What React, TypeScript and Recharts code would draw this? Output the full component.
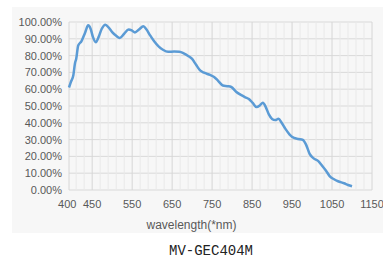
import { LineChart, Line, XAxis, YAxis, CartesianGrid, ReferenceLine, Label } from 'recharts';

// wavelength (nm) and relative response (%)
const wavelengths = [
  392, 397, 403, 407, 410, 415, 423, 432, 440, 446, 452, 459, 466, 474, 483, 492, 500, 510, 519, 530,
  541, 549, 557, 567, 578, 586, 595, 605, 616, 627, 640, 655, 668, 680, 690, 700, 710, 720, 730, 745,
  755, 765, 777, 788, 798, 810, 822, 833, 842, 851, 861, 870, 877, 884, 892, 900, 908, 916, 924, 933,
  944, 955, 966, 977, 985, 994, 1004, 1015, 1025, 1035, 1044, 1055, 1065, 1080, 1090, 1100,
];
const response = [
  61, 64.5, 68.5, 75.5, 78, 86, 88.5, 93.5, 98, 96, 91, 88, 91, 96, 98.4, 96.5, 94, 91.8, 90.5, 93,
  95.5, 95, 93.8, 95.5, 97.4, 95.5, 92, 88.5, 85.5, 83.5, 82.3, 82.4, 82.3, 81.2, 79.8, 78, 74.5, 71.2, 69.8, 68.5,
  67.3, 65, 62.2, 61.8, 61.3, 58.5, 56.6, 55.2, 54.2, 52, 49.4, 50.5, 52, 49.5, 45, 42.3, 41.6, 42.4, 40, 36.5,
  33, 31, 30.4, 29.8, 27, 21.5, 18.8, 17.3, 14.5, 11.5, 8.3, 6.4, 5.2, 4, 3, 2.2,
];

const xTicks = [400, 450, 550, 650, 750, 850, 950, 1050, 1150];
const yTicks = [0, 10, 20, 30, 40, 50, 60, 70, 80, 90, 100];
const majorLines = [450, 550, 650, 750, 850, 950, 1050, 1150];
const minorLines = [410, 430, 470, 490, 510, 530, 570, 590, 610, 630, 670, 690, 710, 730, 770, 790, 810, 830,
  870, 890, 910, 930, 970, 990, 1010, 1030, 1070, 1090, 1110, 1130];

const data = wavelengths.map((w, i) => ({ w, v: response[i] }));

const font = { fontFamily: 'Liberation Sans', fontSize: 11, fill: '#595959' };

// the first label sits a bit left of its tick, as in the source
const XTick = (props) => {
  const { x, y, payload } = props;
  return (
    <text x={payload.value === 400 ? x - 5 : x} y={y} dy="0.71em" textAnchor="middle" {...font}>
      {payload.value}
    </text>
  );
};

export default function App() {
  return (
    <div style={{ position: 'absolute', left: 0, top: 0, width: 387, height: 259, background: '#fff' }}>
      <div style={{ position: 'absolute', left: 12, top: 7, width: 371, height: 226, background: '#f7f7f7' }}>
        <LineChart width={371} height={226} data={data} margin={{ top: 15, right: 11, left: 0, bottom: 0 }}>
          <CartesianGrid vertical={false} stroke="#d9d9d9" />
          {minorLines.map((x) => (
            <ReferenceLine key={'m' + x} x={x} stroke="#e9e9e9" />
          ))}
          {majorLines.map((x) => (
            <ReferenceLine key={'M' + x} x={x} stroke="#d6d6d6" />
          ))}
          <ReferenceLine x={392} stroke="#d6d6d6" />
          <XAxis
            dataKey="w"
            type="number"
            domain={[392, 1150]}
            ticks={xTicks}
            interval={0}
            axisLine={false}
            tickLine={false}
            tickSize={8}
            tickMargin={2}
            height={43}
            tick={<XTick />}
          >
            <Label
              value="wavelength(*nm)"
              position="insideBottom"
              offset={4}
              dx={-29}
              style={{ ...font, fontSize: 12 }}
            />
          </XAxis>
          <YAxis
            type="number"
            domain={[0, 100]}
            ticks={yTicks}
            interval={0}
            width={57}
            axisLine={false}
            tickLine={false}
            tickSize={5}
            tickMargin={2}
            tick={font}
            tickFormatter={(v) => v.toFixed(2) + '%'}
          />
          <Line
            type="monotone"
            dataKey="v"
            stroke="#5b9bd5"
            strokeWidth={2.5}
            dot={false}
            isAnimationActive={false}
          />
        </LineChart>
      </div>
      <div
        style={{
          position: 'absolute', left: 0, width: 422, top: 243, textAlign: 'center',
          fontFamily: 'Liberation Mono', fontSize: 14, color: '#222',
        }}
      >
        MV-GEC404M
      </div>
    </div>
  );
}
